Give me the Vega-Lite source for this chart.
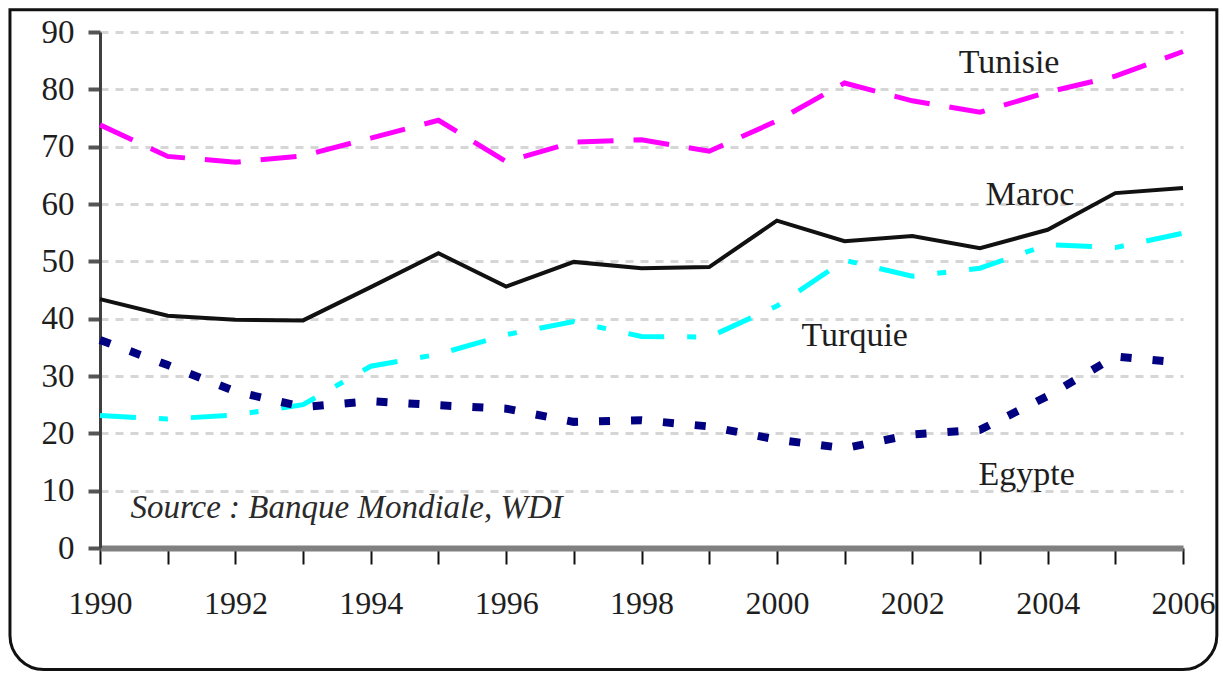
{
  "$schema": "https://vega.github.io/schema/vega-lite/v6.json",
  "autosize": {"type": "none"},
  "width": 1083,
  "height": 516,
  "padding": {"left": 100, "top": 32, "right": 40, "bottom": 132},
  "background": "white",
  "config": {
    "view": {"stroke": null},
    "font": "Liberation Serif",
    "text": {"font": "Liberation Serif", "color": "#1e1e1e"}
  },
  "datasets": {
    "series": [
      {"year": 1990, "country": "Tunisie", "value": 73.8},
      {"year": 1991, "country": "Tunisie", "value": 68.3},
      {"year": 1992, "country": "Tunisie", "value": 67.3},
      {"year": 1993, "country": "Tunisie", "value": 68.4},
      {"year": 1994, "country": "Tunisie", "value": 71.5},
      {"year": 1995, "country": "Tunisie", "value": 74.6},
      {"year": 1996, "country": "Tunisie", "value": 67.4},
      {"year": 1997, "country": "Tunisie", "value": 70.8},
      {"year": 1998, "country": "Tunisie", "value": 71.2},
      {"year": 1999, "country": "Tunisie", "value": 69.2},
      {"year": 2000, "country": "Tunisie", "value": 74.5},
      {"year": 2001, "country": "Tunisie", "value": 81.1},
      {"year": 2002, "country": "Tunisie", "value": 78.0},
      {"year": 2003, "country": "Tunisie", "value": 76.0},
      {"year": 2004, "country": "Tunisie", "value": 79.5},
      {"year": 2005, "country": "Tunisie", "value": 82.3},
      {"year": 2006, "country": "Tunisie", "value": 86.6},
      {"year": 1990, "country": "Maroc", "value": 43.4},
      {"year": 1991, "country": "Maroc", "value": 40.5},
      {"year": 1992, "country": "Maroc", "value": 39.8},
      {"year": 1993, "country": "Maroc", "value": 39.7},
      {"year": 1994, "country": "Maroc", "value": 45.5},
      {"year": 1995, "country": "Maroc", "value": 51.4},
      {"year": 1996, "country": "Maroc", "value": 45.6},
      {"year": 1997, "country": "Maroc", "value": 49.9},
      {"year": 1998, "country": "Maroc", "value": 48.8},
      {"year": 1999, "country": "Maroc", "value": 49.0},
      {"year": 2000, "country": "Maroc", "value": 57.1},
      {"year": 2001, "country": "Maroc", "value": 53.5},
      {"year": 2002, "country": "Maroc", "value": 54.4},
      {"year": 2003, "country": "Maroc", "value": 52.3},
      {"year": 2004, "country": "Maroc", "value": 55.5},
      {"year": 2005, "country": "Maroc", "value": 61.9},
      {"year": 2006, "country": "Maroc", "value": 62.8},
      {"year": 1990, "country": "Turquie", "value": 23.1},
      {"year": 1991, "country": "Turquie", "value": 22.5},
      {"year": 1992, "country": "Turquie", "value": 23.2},
      {"year": 1993, "country": "Turquie", "value": 25.0},
      {"year": 1994, "country": "Turquie", "value": 31.7},
      {"year": 1995, "country": "Turquie", "value": 33.8},
      {"year": 1996, "country": "Turquie", "value": 37.2},
      {"year": 1997, "country": "Turquie", "value": 39.5},
      {"year": 1998, "country": "Turquie", "value": 36.9},
      {"year": 1999, "country": "Turquie", "value": 36.8},
      {"year": 2000, "country": "Turquie", "value": 42.2},
      {"year": 2001, "country": "Turquie", "value": 50.2},
      {"year": 2002, "country": "Turquie", "value": 47.4},
      {"year": 2003, "country": "Turquie", "value": 48.8},
      {"year": 2004, "country": "Turquie", "value": 52.9},
      {"year": 2005, "country": "Turquie", "value": 52.4},
      {"year": 2006, "country": "Turquie", "value": 54.9},
      {"year": 1990, "country": "Egypte", "value": 36.3},
      {"year": 1991, "country": "Egypte", "value": 31.9},
      {"year": 1992, "country": "Egypte", "value": 27.3},
      {"year": 1993, "country": "Egypte", "value": 24.6},
      {"year": 1994, "country": "Egypte", "value": 25.6},
      {"year": 1995, "country": "Egypte", "value": 24.9},
      {"year": 1996, "country": "Egypte", "value": 24.3},
      {"year": 1997, "country": "Egypte", "value": 22.0},
      {"year": 1998, "country": "Egypte", "value": 22.3},
      {"year": 1999, "country": "Egypte", "value": 21.2},
      {"year": 2000, "country": "Egypte", "value": 18.9},
      {"year": 2001, "country": "Egypte", "value": 17.4},
      {"year": 2002, "country": "Egypte", "value": 19.8},
      {"year": 2003, "country": "Egypte", "value": 20.6},
      {"year": 2004, "country": "Egypte", "value": 26.5},
      {"year": 2005, "country": "Egypte", "value": 33.4},
      {"year": 2006, "country": "Egypte", "value": 32.3}
    ],
    "labels": [
      {"text": "Tunisie", "year": 2003.43, "value": 84.6},
      {"text": "Maroc", "year": 2003.74, "value": 61.6},
      {"text": "Turquie", "year": 2001.15, "value": 37.0},
      {"text": "Egypte", "year": 2003.69, "value": 12.7}
    ],
    "note": [
      {"text": "Source : Banque Mondiale, WDI", "year": 1990.45, "value": 7.0}
    ]
  },
  "layer": [
    {
      "data": {"name": "series"},
      "mark": {"type": "rule", "opacity": 0},
      "encoding": {
        "x": {
          "field": "year", "type": "quantitative",
          "scale": {"domain": [1990, 2006], "nice": false, "zero": false},
          "axis": {
            "title": null,
            "values": [1990, 1991, 1992, 1993, 1994, 1995, 1996, 1997, 1998, 1999, 2000, 2001, 2002, 2003, 2004, 2005, 2006],
            "format": "d",
            "labelExpr": "datum.value % 2 == 0 ? datum.label : ''",
            "domainColor": "#808080", "domainWidth": 6,
            "tickColor": "#111111", "tickWidth": 2, "tickSize": 16,
            "labelFont": "Liberation Serif", "labelFontSize": 32, "labelColor": "#1e1e1e",
            "labelPadding": 24, "labelFlush": false, "labelOverlap": false,
            "grid": false
          }
        },
        "y": {
          "field": "value", "type": "quantitative",
          "scale": {"domain": [0, 90], "nice": false},
          "axis": {
            "title": null,
            "values": [0, 10, 20, 30, 40, 50, 60, 70, 80, 90],
            "domainColor": "#404040", "domainWidth": 3,
            "tickColor": "#555555", "tickWidth": 4, "tickSize": 12,
            "labelFont": "Liberation Serif", "labelFontSize": 33, "labelColor": "#1e1e1e",
            "labelPadding": 14,
            "grid": true, "gridColor": "#d6d6d6", "gridWidth": 3, "gridDash": [8, 7]
          }
        }
      }
    },
    {
      "data": {"name": "series"},
      "transform": [{"filter": "datum.country == 'Tunisie'"}],
      "mark": {"type": "line", "color": "#ff00ff", "strokeWidth": 5, "strokeDash": [36, 20]},
      "encoding": {
        "x": {"field": "year", "type": "quantitative"},
        "y": {"field": "value", "type": "quantitative"}
      }
    },
    {
      "data": {"name": "series"},
      "transform": [{"filter": "datum.country == 'Maroc'"}],
      "mark": {"type": "line", "color": "#111111", "strokeWidth": 4},
      "encoding": {
        "x": {"field": "year", "type": "quantitative"},
        "y": {"field": "value", "type": "quantitative"}
      }
    },
    {
      "data": {"name": "series"},
      "transform": [{"filter": "datum.country == 'Turquie'"}],
      "mark": {"type": "line", "color": "#00ffff", "strokeWidth": 5, "strokeDash": [36, 23, 9, 23]},
      "encoding": {
        "x": {"field": "year", "type": "quantitative"},
        "y": {"field": "value", "type": "quantitative"}
      }
    },
    {
      "data": {"name": "series"},
      "transform": [{"filter": "datum.country == 'Egypte'"}],
      "mark": {"type": "line", "color": "#000080", "strokeWidth": 8, "strokeDash": [11, 21]},
      "encoding": {
        "x": {"field": "year", "type": "quantitative"},
        "y": {"field": "value", "type": "quantitative"}
      }
    },
    {
      "data": {"name": "labels"},
      "mark": {"type": "text", "fontSize": 34, "align": "center", "baseline": "middle", "font": "Liberation Serif", "color": "#1e1e1e"},
      "encoding": {
        "x": {"field": "year", "type": "quantitative"},
        "y": {"field": "value", "type": "quantitative"},
        "text": {"field": "text"}
      }
    },
    {
      "data": {"name": "note"},
      "mark": {"type": "text", "fontSize": 33, "fontStyle": "italic", "align": "left", "baseline": "middle", "font": "Liberation Serif", "color": "#2a2a2a"},
      "encoding": {
        "x": {"field": "year", "type": "quantitative"},
        "y": {"field": "value", "type": "quantitative"},
        "text": {"field": "text"}
      }
    },
    {
      "data": {"values": [{"frame": "outer"}]},
      "mark": {"type": "rect", "fillOpacity": 0, "stroke": "#111111", "strokeWidth": 3, "cornerRadiusBottomLeft": 34, "cornerRadiusBottomRight": 34, "clip": false},
      "encoding": {
        "x": {"datum": 1988.67, "type": "quantitative"},
        "x2": {"datum": 2006.5},
        "y": {"datum": 93.9, "type": "quantitative"},
        "y2": {"datum": -21.2}
      }
    }
  ]
}
